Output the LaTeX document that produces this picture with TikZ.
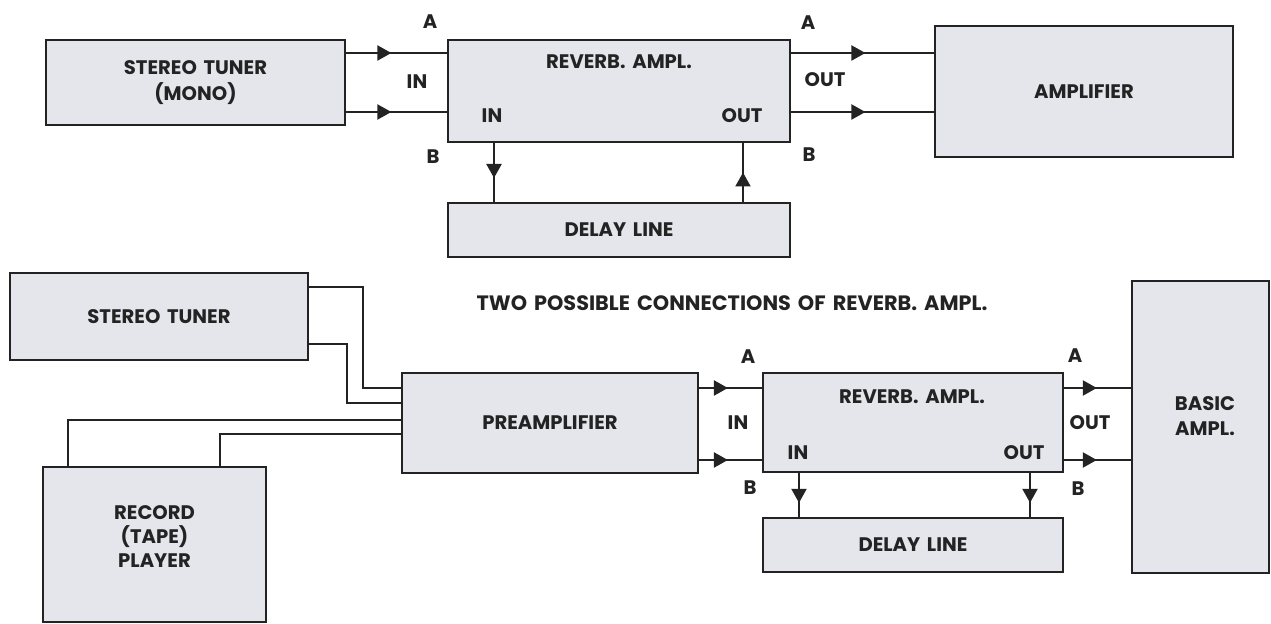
\documentclass[tikz,border=0pt]{standalone}
\usepackage{fontspec}
\setmainfont{Poppins}[WordSpace=1.6]
\usetikzlibrary{arrows.meta,decorations.markings}
\definecolor{BoxGrey}{RGB}{228,230,236}
\definecolor{InkGrey}{RGB}{35,35,35}

\begin{document}
\begin{tikzpicture}[x=0.5pt,y=-0.5pt,
  unit/.style={draw=InkGrey,line width=1.3pt,fill=BoxGrey,inner sep=0pt,outer sep=0pt,align=center,text=InkGrey,font=\bfseries\fontsize{9.8}{13}\selectfont},
  tag/.style={inner sep=0pt,align=center,text=InkGrey,font=\bfseries\fontsize{9.8}{12.5}\selectfont},
  wire/.style={draw=InkGrey,line width=1.1pt},
  sig/.style={wire,postaction={decorate},decoration={markings,mark=at position #1 with {\arrow{Triangle[length=7pt,width=7.5pt]}}}},
  sig/.default=0.5]
\useasboundingbox (0,0) rectangle (1271,624);

% first connection
\node[unit,minimum width=149.5pt,minimum height=42.5pt] (tunerA) at (195.5,82.5) {STEREO TUNER\\(MONO)};
\node[unit,minimum width=171pt,minimum height=51pt] (revA) at (619,91) {};
\node[tag] (revAname) at (619,62) {REVERB. AMPL.};
\node[tag] (revAin) at (492,116) {IN};
\node[tag] (revAout) at (742,116) {OUT};
\node[unit,minimum width=149pt,minimum height=65.5pt] (ampA) at (1084,91.5) {AMPLIFIER};
\node[unit,minimum width=171pt,minimum height=27pt] (delayA) at (619,230) {DELAY LINE};
\node[tag] (inA) at (430,22) {A};
\node[tag] (inMid) at (417,82) {IN};
\node[tag] (inB) at (433,157) {B};
\node[tag] (outA) at (808,23) {A};
\node[tag] (outMid) at (825,80) {OUT};
\node[tag] (outB) at (809,155) {B};

\coordinate (rowA) at (0,53);
\coordinate (rowB) at (0,112);
\coordinate (colIn) at (494,0);
\coordinate (colOut) at (743,0);
\draw[sig=0.45] (tunerA.east |- rowA) -- (revA.west |- rowA);
\draw[sig=0.45] (tunerA.east |- rowB) -- (revA.west |- rowB);
\draw[sig=0.52] (revA.east |- rowA) -- (ampA.west |- rowA);
\draw[sig=0.52] (revA.east |- rowB) -- (ampA.west |- rowB);
\draw[sig=0.59] (revA.south -| colIn) -- (delayA.north -| colIn);
\draw[sig] (delayA.north -| colOut) -- (revA.south -| colOut);

% second connection
\node[unit,minimum width=149pt,minimum height=43.5pt] (tunerB) at (159,316.5) {STEREO TUNER};
\node[tag,font=\bfseries\fontsize{10.4}{12}\selectfont] (title) at (732,303) {TWO POSSIBLE CONNECTIONS OF REVERB. AMPL.};
\node[unit,minimum width=148pt,minimum height=50pt] (preamp) at (550,423) {PREAMPLIFIER};
\node[unit,minimum width=111.5pt,minimum height=77.5pt] (player) at (154.5,544.5) {};
\node[tag,font=\bfseries\fontsize{9.8}{12}\selectfont] (playername) at (154.5,537) {RECORD\\(TAPE)\\PLAYER};
\node[unit,minimum width=150pt,minimum height=49.5pt] (revB) at (913,422.5) {};
\node[tag] (revBname) at (912,397) {REVERB. AMPL.};
\node[tag] (revBin) at (798,453) {IN};
\node[tag] (revBout) at (1024,453) {OUT};
\node[unit,minimum width=150pt,minimum height=27pt] (delayB) at (913,545) {DELAY LINE};
\node[unit,minimum width=68.5pt,minimum height=146pt] (basic) at (1200.5,427) {};
\node[tag] (basicname) at (1205,416) {BASIC\\AMPL.};
\node[tag] (inC) at (748,357) {A};
\node[tag] (inMidB) at (738,423) {IN};
\node[tag] (inD) at (750,488) {B};
\node[tag] (outC) at (1075,356) {A};
\node[tag] (outMidB) at (1090,423) {OUT};
\node[tag] (outD) at (1078,489) {B};

\coordinate (t1) at (0,287);
\coordinate (t2) at (0,344);
\coordinate (j1) at (363,388);
\coordinate (j2) at (347,403);
\coordinate (j3) at (68,420);
\coordinate (j4) at (220,434);
\draw[wire] (tunerB.east |- t1) -| (j1) -- (preamp.west |- j1);
\draw[wire] (tunerB.east |- t2) -| (j2) -- (preamp.west |- j2);
\draw[wire] (player.north -| j3) -- (j3) -- (preamp.west |- j3);
\draw[wire] (player.north -| j4) -- (j4) -- (preamp.west |- j4);

\coordinate (rowC) at (0,388);
\coordinate (rowD) at (0,460);
\coordinate (colC) at (799,0);
\coordinate (colD) at (1030,0);
\draw[sig=0.46] (preamp.east |- rowC) -- (revB.west |- rowC);
\draw[sig=0.46] (preamp.east |- rowD) -- (revB.west |- rowD);
\draw[sig=0.49] (revB.east |- rowC) -- (basic.west |- rowC);
\draw[sig=0.49] (revB.east |- rowD) -- (basic.west |- rowD);
\draw[sig=0.67] (revB.south -| colC) -- (delayB.north -| colC);
\draw[sig=0.67] (revB.south -| colD) -- (delayB.north -| colD);
\end{tikzpicture}
\end{document}
